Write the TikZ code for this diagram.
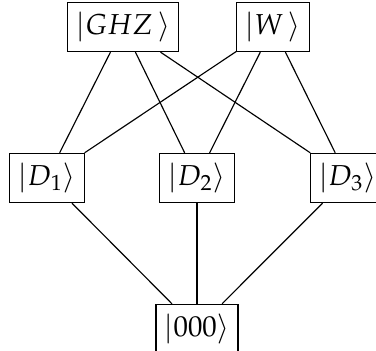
\documentclass[tikz,border=0pt]{standalone}
\usepackage{amsmath, amsfonts, amssymb}
\usepackage{mathpazo}
\usepackage{tikz}
\usetikzlibrary{positioning}

\begin{document}
\begin{tikzpicture}[ket/.style={draw, minimum height=0.55cm, inner xsep=3pt}]
        \useasboundingbox (0,0) rectangle (4.58,4.275);
        \node[ket] (ghz) at (1.50,3.946) {$|GHZ\,\rangle$};
        \node[ket] (w) at (3.325,3.946) {$|W\,\rangle$};
        \node[ket] (d1) at (0.572,2.107) {$|D_1\rangle$};
        \node[ket] (d2) at (2.399,2.107) {$|D_2\rangle$};
        \node[ket] (d3) at (4.235,2.107) {$|D_3\rangle$};
        \node[ket] (zero) at (2.399,0.268) {$|000\rangle$};
        \draw (ghz) -- (d1);
        \draw (ghz) -- (d2);
        \draw (ghz) -- (d3);
        \draw (w) -- (d1);
        \draw (w) -- (d2);
        \draw (w) -- (d3);
        \draw (d1) -- (zero);
        \draw (d2) -- (zero);
        \draw (d3) -- (zero);
    \end{tikzpicture}
\end{document}
